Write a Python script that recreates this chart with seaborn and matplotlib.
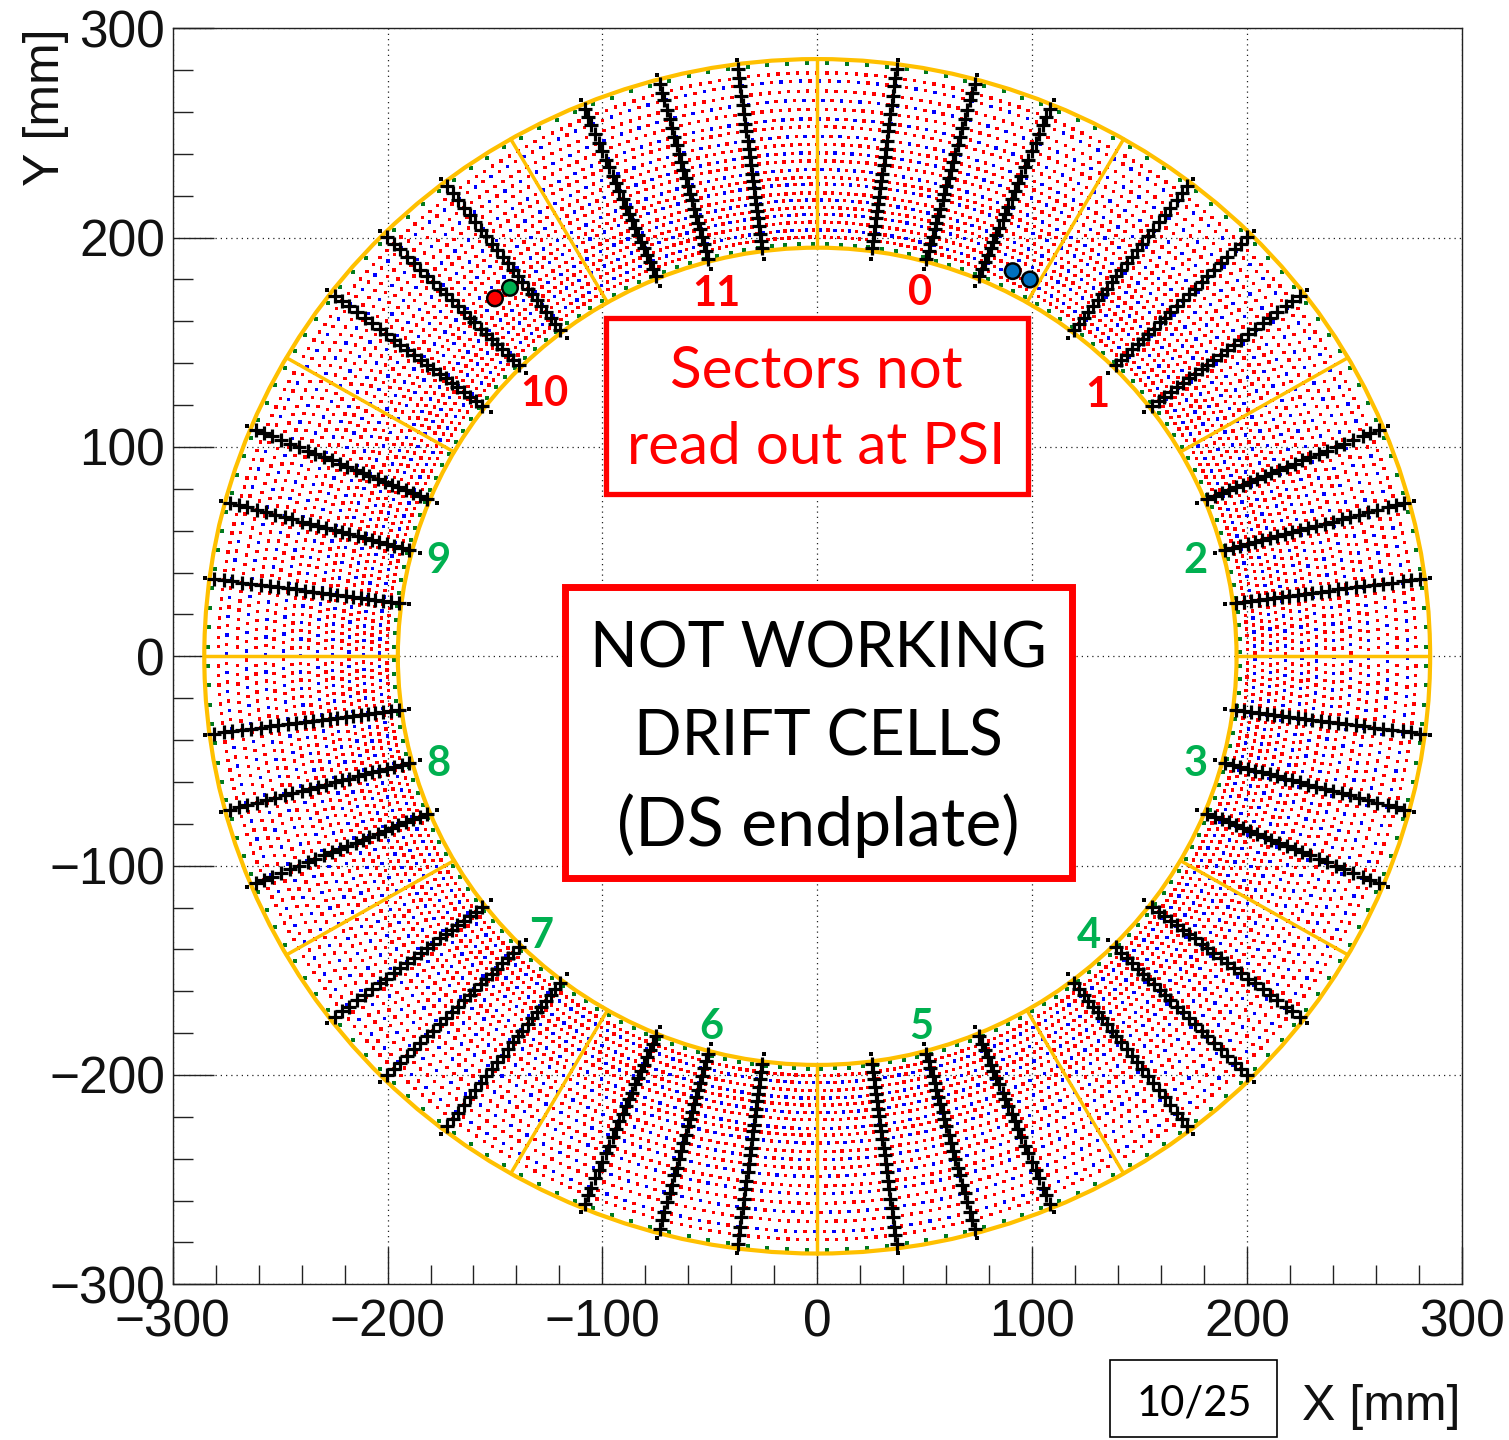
import numpy as np
import pandas as pd
import matplotlib
matplotlib.use("Agg")
import matplotlib.pyplot as plt
from matplotlib.patches import Circle, Rectangle
import seaborn as sns

# ring radii in mm and wire phase in units of one cell
sense_radii = [203.7, 211.1, 218.0, 225.6, 232.5, 240.5, 248.4, 256.7, 265.6, 274.9]
sense_phase = [-0.25, -0.1, -0.3, -0.1, -0.3, -0.05, -0.3, -0.1, -0.3, -0.13]
field_radii = [200.3, 207.4, 214.4, 221.4, 228.8, 236.7, 244.5, 253.0, 261.3, 270.0, 278.7]
guard_radii = [197.0, 283.5]
guard_phase = [-0.7, 0.5]
inner_radius = 195.2
outer_radius = 285.3

cells_per_ring = 192
sector_edges = [0, 30, 60, 90, 120, 150, 180, 210, 240, 270, 300, 330]
dead_offsets = [7.5, 15, 22.5]
dead_end_radii = [191.5, 287.5]

sector_names = ["0", "1", "2", "3", "4", "5", "6", "7", "8", "9", "10", "11"]
sector_x = [47.7, 130.5, 176.2, 176.2, 126.4, 48.6, -49.1, -128.3, -176.2, -176.2, -127.2, -46.8]
sector_y = [173.6, 124.9, 45.6, -51.3, -133.4, -177.3, -177.3, -133.4, -51.3, 45.6, 125.3, 173.1]
sector_read = [True, True, False, False, False, False, False, False, False, False, True, True]

hit_x = [91, 99, -143, -150]
hit_y = [184, 180, 176, 171]
hit_colors = ["#0070C0", "#0070C0", "#00B050", "#FF0000"]

major_ticks = [-300, -200, -100, 0, 100, 200, 300]
major_labels = ["\u2212300", "\u2212200", "\u2212100", "0", "100", "200", "300"]
minor_ticks = [v for v in range(-300, 301, 20) if v % 100 != 0]

W, H = 1509, 1440


def polar(r, deg):
    a = np.radians(deg)
    return r * np.cos(a), r * np.sin(a)


def fx(px):
    return px / W


def fy(py):
    return 1 - py / H


step = 360.0 / cells_per_ring
rows = []
for r, ph in zip(sense_radii, sense_phase):
    for i in range(cells_per_ring):
        x, y = polar(r, (i + ph) * step)
        rows.append((x, y, "sense"))
        x, y = polar(r, (i + ph + 0.5) * step)
        rows.append((x, y, "field"))
for r in field_radii:
    for i in range(cells_per_ring * 2):
        x, y = polar(r, i * step / 2)
        rows.append((x, y, "field"))
for r, ph in zip(guard_radii, guard_phase):
    for i in range(cells_per_ring):
        x, y = polar(r, (i + ph) * step)
        rows.append((x, y, "guard"))
wires = pd.DataFrame(rows, columns=["x", "y", "wire"])

all_radii = sorted(sense_radii + field_radii) + [196.5, 283.0]
dead = []
ends = []
for edge in sector_edges:
    for off in dead_offsets:
        for r in all_radii:
            dead.append(polar(r, edge + off))
        for r in dead_end_radii:
            ends.append(polar(r, edge + off))
dead = pd.DataFrame(dead, columns=["x", "y"])
ends = pd.DataFrame(ends, columns=["x", "y"])

sns.set_theme(style="white")
plt.rcParams["font.family"] = ["Liberation Sans", "DejaVu Sans"]

fig = plt.figure(figsize=(W / 100, H / 100), dpi=100)
ax = fig.add_axes([fx(172.7), fy(1284.3), (1461.7 - 172.7) / W, (1284.3 - 28.3) / H])
ax.set_xlim(-300, 300)
ax.set_ylim(-300, 300)

ax.set_axisbelow(True)
ax.grid(True, which="major", color="#222222", lw=0.9, ls=(0, (1, 3.2)))

sns.scatterplot(data=wires[wires.wire != "guard"], x="x", y="y", hue="wire",
                palette={"sense": "#0000FF", "field": "#FF0000"}, marker="s", s=6,
                linewidth=0, legend=False, ax=ax, zorder=2)
sns.scatterplot(data=wires[wires.wire == "guard"], x="x", y="y", color="#007A1E",
                marker="s", s=8, linewidth=0, legend=False, ax=ax, zorder=2)

# gold rings and sector edges
for r in [inner_radius, outer_radius]:
    ax.add_patch(Circle((0, 0), r, fill=False, ec="#FFC000", lw=3.0, zorder=3))
for edge in sector_edges:
    x0, y0 = polar(inner_radius, edge)
    x1, y1 = polar(outer_radius, edge)
    ax.plot([x0, x1], [y0, y1], color="#FFC000", lw=2.5, zorder=3)

sns.scatterplot(data=dead, x="x", y="y", color="black", marker="+", s=110,
                linewidth=2.3, legend=False, ax=ax, zorder=4)
sns.scatterplot(data=ends, x="x", y="y", color="black", marker="s", s=5,
                linewidth=0, legend=False, ax=ax, zorder=4)

ax.scatter(hit_x, hit_y, c=hit_colors, s=125, edgecolors="black", linewidths=1.8, zorder=5)

for name, x, y, ok in zip(sector_names, sector_x, sector_y, sector_read):
    ax.text(x, y, name, color="#FF0000" if ok else "#00B050", fontsize=30, fontweight="bold",
            family="Lato", ha="center", va="center", zorder=6)

ax.set_xlabel("")
ax.set_ylabel("")
ax.set_xticks(major_ticks)
ax.set_xticklabels(major_labels)
ax.set_yticks(major_ticks)
ax.set_yticklabels(major_labels)
ax.set_xticks(minor_ticks, minor=True)
ax.set_yticks(minor_ticks, minor=True)
ax.tick_params(axis="x", which="major", direction="in", length=27, width=1.0, color="#222222",
               labelsize=37, pad=10.5, labelcolor="#111111", bottom=True)
ax.tick_params(axis="x", which="minor", direction="in", length=13.7, width=1.0, color="#222222", bottom=True)
ax.tick_params(axis="y", which="major", direction="in", length=29.5, width=1.0, color="#222222",
               labelsize=37, pad=5.5, labelcolor="#111111", left=True)
ax.tick_params(axis="y", which="minor", direction="in", length=14.4, width=1.0, color="#222222", left=True)
for s in ax.spines.values():
    s.set_visible(True)
    s.set_color("#222222")
    s.set_linewidth(1.0)

fig.text(fx(46), fy(28), "Y [mm]", rotation=90, ha="center", va="top", fontsize=36, color="#111111")
fig.text(fx(1461), fy(1407), "X [mm]", ha="right", va="center", fontsize=36, color="#111111")

# annotation boxes
boxes = [(606, 318, 1028, 494, "#FF0000", 3.8), (565, 587, 1072, 878, "#FF0000", 5.0),
         (1110, 1360, 1277, 1437, "black", 1.2)]
for x0, y0, x1, y1, c, lw in boxes:
    fig.add_artist(Rectangle((fx(x0), fy(y1)), (x1 - x0) / W, (y1 - y0) / H, transform=fig.transFigure,
                             fc="white", ec=c, lw=lw, zorder=10))

notes = [(816, 372, "Sectors not", "#FF0000", 42), (816, 448, "read out at PSI", "#FF0000", 42),
         (818, 649, "NOT WORKING", "black", 45), (818, 738, "DRIFT CELLS", "black", 45),
         (818, 826, "(DS endplate)", "black", 49), (1194, 1404, "10/25", "black", 30)]
for x, y, s, c, fs in notes:
    fig.text(fx(x), fy(y), s, color=c, fontsize=fs, family="Lato", ha="center", va="center", zorder=11)

fig.savefig("out.png", dpi=100)
